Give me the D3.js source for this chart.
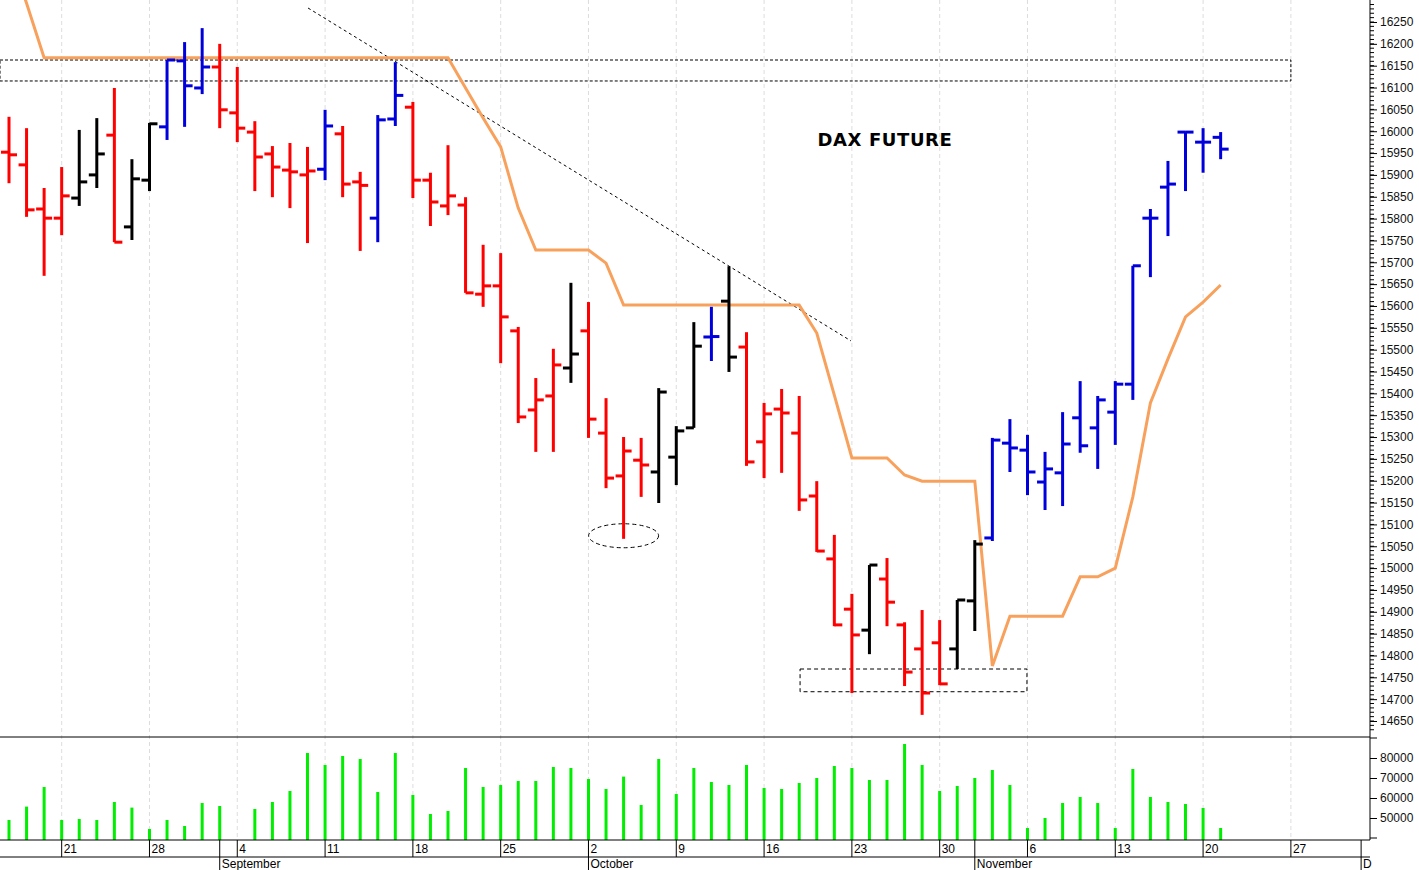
<!DOCTYPE html>
<html>
<head>
<meta charset="utf-8">
<script src="https://cdn.jsdelivr.net/npm/d3@7"></script>
<style>
  body { margin: 0; background: #fff; }
  svg { display: block; font-family: "Liberation Sans", Arial, sans-serif; }
</style>
</head>
<body>
<svg id="chart" width="1419" height="870"></svg>
<script>
// trading days from 16 Aug 2023 to 21 Nov 2023 (index 0..69)
const opens  = [15952,15923,15822,15801,15847,15900,15991,15781,15888,16010,16161,16099,16147,16042,15998,15948,15911,15900,15913,15994,15884,15801,16028,16055,15888,15829,15831,15627,15646,15543,15362,15394,15458,15543,15309,15211,15247,15220,15254,15321,15529,15611,15506,15289,15364,15309,15165,15021,14906,14858,14975,14870,14815,14829,14815,14925,15069,15286,15270,15197,15218,15344,15321,15357,15421,15801,15872,15998,15975,15986];
const highs  = [16033,16007,15870,15918,16003,16030,16099,15936,16019,16163,16204,16236,16200,16147,16023,15966,15973,15964,16049,16012,15907,16037,16158,16067,15905,15968,15849,15740,15721,15552,15435,15502,15653,15609,15389,15300,15298,15412,15325,15563,15598,15691,15540,15378,15410,15394,15199,15076,14941,15007,15023,14876,14904,14881,14927,15064,15298,15341,15305,15266,15357,15428,15394,15428,15692,15822,15932,16000,16007,15998];
const lows   = [15881,15804,15669,15762,15829,15870,15746,15751,15863,15980,16010,16085,16007,15975,15863,15849,15824,15744,15888,15849,15726,15746,16012,15847,15783,15808,15630,15598,15469,15332,15266,15266,15424,15298,15183,15067,15163,15149,15190,15321,15474,15449,15234,15206,15218,15131,15037,14867,14714,14803,14867,14730,14664,14732,14769,14856,15062,15220,15167,15133,15142,15264,15227,15282,15385,15666,15760,15863,15905,15936];
const closes = [15946,15820,15801,15852,15884,15948,15746,15891,16017,16163,16104,16147,16049,16007,15941,15918,15907,15909,16012,15879,15876,16026,16082,15888,15838,15852,15630,15646,15575,15346,15385,15465,15490,15341,15206,15268,15236,15403,15314,15508,15530,15483,15243,15353,15355,15156,15039,14870,14847,15007,14922,14762,14714,14735,14927,15055,15293,15275,15220,15227,15284,15280,15385,15421,15692,15801,15879,15998,15975,15959];
const barColors = "RRRRKKRKKBBBRRRRRRBRRBBRRRRRRRRRKRRRRKKKBKRRRRRRRKRRRRKKBBBBBBBBBBBBBB".split("");
const trailLine = [16410,16293,16168,16168,16168,16168,16168,16168,16168,16168,16168,16168,16168,16168,16168,16168,16168,16168,16168,16168,16168,16168,16168,16168,16168,16168,16099,16030,15964,15824,15728,15728,15728,15728,15698,15602,15602,15602,15602,15602,15602,15602,15602,15602,15602,15602,15538,15396,15252,15252,15252,15213,15199,15199,15199,15199,14776,14890,14890,14890,14890,14980,14980,15000,15163,15378,15479,15575,15609,15648];
const volumes = [49000,55700,65500,49000,49500,49000,58000,55200,44500,49000,46000,57500,56000,null,54500,58000,63500,82500,76500,81000,79500,63000,82500,61500,52000,53500,75000,65500,66500,68500,68500,75500,75000,69500,64500,70700,56500,79500,62000,75000,68000,66500,76500,65000,64500,67500,70000,76000,75000,69000,69000,87000,76500,63500,66000,70000,74000,66500,45000,50000,57500,60500,57500,45000,74500,60500,58000,57000,55000,45000];
const weekTicks = [[3,"21"],[8,"28"],[13,"4"],[18,"11"],[23,"18"],[28,"25"],[33,"2"],[38,"9"],[43,"16"],[48,"23"],[53,"30"],[58,"6"],[63,"13"],[68,"20"],[73,"27"]];
const monthTicks = [[12,"September"],[33,"October"],[55,"November"],[77,"D"]];
const priceLabels = d3.range(14650, 16251, 50);
const volumeLabels = [50000, 60000, 70000, 80000];

const colorMap = {R: "#ff0000", K: "#000000", B: "#0000dd"};
const svg = d3.select("#chart");
const plotRight = 1370;

const x = d3.scaleLinear().domain([0, 74]).range([9, 9 + 17.56 * 74]);
const y = d3.scaleLinear().domain([14650, 16250]).range([721, 22]);
const yv = d3.scaleLinear().domain([50000, 80000]).range([818, 758]);

svg.append("clipPath").attr("id", "cp").append("rect")
    .attr("x", 0).attr("y", 0).attr("width", plotRight).attr("height", 737);

// grid
const grid = svg.append("g");
weekTicks.forEach(([i]) => {
    grid.append("line").attr("x1", x(i)).attr("x2", x(i)).attr("y1", 0).attr("y2", 840)
        .attr("stroke", "#dddddd").attr("stroke-dasharray", "4,3");
});

const pg = svg.append("g").attr("clip-path", "url(#cp)");

// resistance band, trend line, annotations
pg.append("rect").attr("x", 0).attr("width", x(73))
    .attr("y", y(16163)).attr("height", y(16115) - y(16163))
    .attr("fill", "none").attr("stroke", "#000").attr("stroke-dasharray", "3,2");
pg.append("line").attr("x1", x(17.03)).attr("y1", y(16282)).attr("x2", x(47.95)).attr("y2", y(15520))
    .attr("stroke", "#000").attr("stroke-dasharray", "3,3");
pg.append("ellipse").attr("cx", x(35)).attr("cy", y(15074)).attr("rx", 35).attr("ry", 12)
    .attr("fill", "none").attr("stroke", "#000").attr("stroke-dasharray", "4,3");
pg.append("rect").attr("x", x(45.05)).attr("width", x(57.97) - x(45.05))
    .attr("y", y(14769)).attr("height", y(14717) - y(14769))
    .attr("fill", "none").attr("stroke", "#000").attr("stroke-dasharray", "4,3");

// orange line
pg.append("path").datum(trailLine)
    .attr("d", d3.line().x((d, i) => x(i)).y(d => y(d)))
    .attr("fill", "none").attr("stroke", "#f8a15c").attr("stroke-width", 3);

// OHLC bars
const bars = pg.selectAll("g.bar").data(opens.map((o, i) => ({i, o, h: highs[i], l: lows[i], c: closes[i], col: colorMap[barColors[i]]})))
    .enter().append("g").attr("stroke", d => d.col).attr("stroke-width", 3);
bars.append("line").attr("x1", d => x(d.i)).attr("x2", d => x(d.i)).attr("y1", d => y(d.h)).attr("y2", d => y(d.l));
bars.append("line").attr("x1", d => x(d.i) - 8).attr("x2", d => x(d.i)).attr("y1", d => y(d.o)).attr("y2", d => y(d.o));
bars.append("line").attr("x1", d => x(d.i)).attr("x2", d => x(d.i) + 8).attr("y1", d => y(d.c)).attr("y2", d => y(d.c));

svg.append("text").attr("x", 885).attr("y", 146).attr("text-anchor", "middle")
    .attr("font-size", 18).attr("font-weight", "bold").attr("letter-spacing", 0.6)
    .attr("font-family", "DejaVu Sans, sans-serif").text("DAX FUTURE");

// volume
svg.append("g").selectAll("line").data(volumes.map((v, i) => ({v, i})).filter(d => d.v !== null))
    .enter().append("line")
    .attr("x1", d => x(d.i)).attr("x2", d => x(d.i))
    .attr("y1", 840).attr("y2", d => yv(d.v))
    .attr("stroke", "#00ee00").attr("stroke-width", 3);

// frames
svg.append("line").attr("x1", 0).attr("x2", plotRight).attr("y1", 737).attr("y2", 737).attr("stroke", "#000");
svg.append("line").attr("x1", 0).attr("x2", plotRight).attr("y1", 840).attr("y2", 840).attr("stroke", "#000");
svg.append("line").attr("x1", 0).attr("x2", plotRight).attr("y1", 857).attr("y2", 857).attr("stroke", "#000");
svg.append("line").attr("x1", plotRight).attr("x2", plotRight).attr("y1", 0).attr("y2", 840).attr("stroke", "#000");

// x axis labels
const xa = svg.append("g").attr("font-size", 12);
weekTicks.forEach(([i, t]) => {
    xa.append("line").attr("x1", x(i)).attr("x2", x(i)).attr("y1", 840).attr("y2", 857).attr("stroke", "#000");
    xa.append("text").attr("x", x(i) + 2).attr("y", 853).text(t);
});
monthTicks.forEach(([i, t]) => {
    xa.append("line").attr("x1", x(i)).attr("x2", x(i)).attr("y1", 840).attr("y2", 870).attr("stroke", "#000");
    xa.append("text").attr("x", x(i) + 2).attr("y", 868).text(t);
});

// right price axis
const ya = svg.append("g").attr("transform", `translate(${plotRight},0)`)
    .call(d3.axisRight(y).tickValues(priceLabels).tickSize(7).tickFormat(d3.format("d")));
ya.select(".domain").remove();
ya.selectAll("text").attr("font-size", 12).attr("fill", "#111").attr("x", 10).attr("font-family", "Liberation Sans, Arial");
const minor = svg.append("g").attr("transform", `translate(${plotRight},0)`);
d3.range(14630, 16300, 10).forEach(v => {
    if (y(v) > 0 && y(v) < 737) minor.append("line").attr("x1", 0).attr("x2", 4).attr("y1", y(v)).attr("y2", y(v)).attr("stroke", "#000");
});
const va = svg.append("g").attr("transform", `translate(${plotRight},0)`)
    .call(d3.axisRight(yv).tickValues(volumeLabels).tickSize(7).tickFormat(d3.format("d")));
va.select(".domain").remove();
va.selectAll("text").attr("font-size", 12).attr("fill", "#111").attr("x", 10).attr("font-family", "Liberation Sans, Arial");
[40000, 90000].forEach(v => {
    svg.append("line").attr("x1", plotRight).attr("x2", plotRight + 7).attr("y1", yv(v)).attr("y2", yv(v)).attr("stroke", "#000");
});
</script>
</body>
</html>
